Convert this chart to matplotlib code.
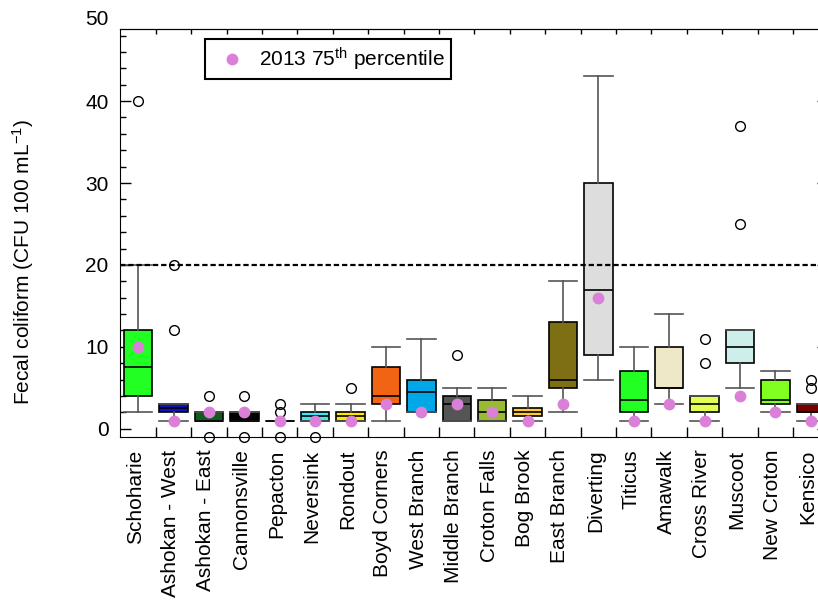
#GRAFICO BOXPLOT - COLIFORMES FECAIS POR RESERVATORIO
import matplotlib.pyplot as plt
import numpy as np
from matplotlib.ticker import MultipleLocator, FixedLocator, NullFormatter
from matplotlib.transforms import ScaledTranslation

plt.rcParams['font.family'] = ['Liberation Sans', 'DejaVu Sans']
plt.rcParams['mathtext.fontset'] = 'custom'
plt.rcParams['mathtext.rm'] = 'Liberation Sans'
plt.rcParams['mathtext.it'] = 'Liberation Sans:italic'

# dados
nomes = ['Schoharie', 'Ashokan - West', 'Ashokan - East', 'Cannonsville', 'Pepacton',
         'Neversink', 'Rondout', 'Boyd Corners', 'West Branch', 'Middle Branch',
         'Croton Falls', 'Bog Brook', 'East Branch', 'Diverting', 'Titicus',
         'Amawalk', 'Cross River', 'Muscoot', 'New Croton', 'Kensico']
whislo = [2, 1, 1, 1, 1, 1, 1, 1, 2, 1, 1, 1, 2, 6, 1, 3, 1, 5, 2, 1]
q1     = [4, 2, 1, 1, 1, 1, 1, 3, 2, 1, 1, 1.5, 5, 9, 2, 5, 2, 8, 3, 2]
med    = [7.5, 2.5, 1, 1, 1, 1.5, 1.5, 4, 4.5, 3, 2, 2, 6, 17, 3.5, 5, 3, 10, 3.5, 2]
q3     = [12, 3, 2, 2, 1, 2, 2, 7.5, 6, 4, 3.5, 2.5, 13, 30, 7, 10, 4, 12, 6, 3]
whishi = [20, 3, 2, 2, 1, 3, 3, 10, 11, 5, 5, 4, 18, 43, 10, 14, 4, 12, 7, 3]
outliers = [[40], [12, 20], [4, -1], [4, -1], [2, 3, -1], [-1], [5], [], [], [9],
            [], [], [], [], [], [], [8, 11], [25, 37], [], [5, 6]]
p75_2013 = [10, 1, 2, 2, 1, 1, 1, 3, 2, 3, 2, 1, 3, 16, 1, 3, 1, 4, 2, 1]
cores = ['#22ff22', '#1010c0', '#0b5e1c', '#000000', '#7a3f9a', '#40e6f6', '#ffe800',
         '#f06414', '#00a8e8', '#555555', '#99bb33', '#ffcc33', '#7f6f14', '#dcdddc',
         '#22ff22', '#eee8c8', '#e2ff50', '#cdeeea', '#80ff20', '#7a0000']

limite = 20

fig = plt.figure(figsize=(8.18, 6), dpi=100)
ax = fig.add_axes([0.1473, 0.2717, 0.8655, 0.68])

pos = np.arange(1, len(nomes) + 1)
stats = []
for i in range(len(nomes)):
    stats.append(dict(label=nomes[i], whislo=whislo[i], q1=q1[i], med=med[i],
                      q3=q3[i], whishi=whishi[i], fliers=outliers[i]))

bp = ax.bxp(stats, positions=pos, widths=0.8, capwidths=0.8, patch_artist=True,
            manage_ticks=False,
            boxprops=dict(edgecolor='black', linewidth=1.2),
            whiskerprops=dict(color='#555555', linewidth=1.2),
            capprops=dict(color='#555555', linewidth=1.2),
            medianprops=dict(color='black', linewidth=1.2),
            flierprops=dict(marker='o', markerfacecolor='none', markeredgecolor='black',
                            markersize=7, markeredgewidth=1))
for caixa, c in zip(bp['boxes'], cores):
    caixa.set_facecolor(c)
for fl in bp['fliers']:
    fl.set_clip_on(False)

ax.axhline(limite, color='black', linewidth=1.6, linestyle=(0, (2.4, 1.3)), zorder=4)
ax.plot(pos, p75_2013, 'o', color='#da80d8', markersize=8.5, markeredgecolor='none',
        label='2013 75$^{\\mathrm{th}}$ percentile', zorder=5, clip_on=False)

# eixo x
ax.set_xlim(0.5, len(nomes) + 0.5)
divisas = np.arange(1.5, len(nomes), 1)
ax.xaxis.set_major_locator(FixedLocator(divisas))
ax.xaxis.set_major_formatter(NullFormatter())
ax.xaxis.set_minor_locator(FixedLocator(pos))
ax.set_xticklabels(nomes, minor=True, rotation=90)
ax.tick_params(axis='x', which='major', direction='in', length=7, width=1)
ax.tick_params(axis='x', which='minor', length=0, pad=9, labelsize=15)
desloc = ScaledTranslation(-3 / 100, 0, fig.dpi_scale_trans)
for lab in ax.get_xticklabels(minor=True):
    lab.set_transform(lab.get_transform() + desloc)
topo = ax.secondary_xaxis('top')
topo.set_xticks(divisas)
topo.set_xticklabels([])
topo.tick_params(direction='in', length=3.5, width=1)

# eixo y
ax.set_ylim(-1.0, 48.8)
ax.yaxis.set_major_locator(MultipleLocator(10))
ax.yaxis.set_minor_locator(MultipleLocator(2))
ax.tick_params(axis='y', which='major', direction='in', length=8, width=1,
               right=True, pad=8.6, labelsize=15)
ax.tick_params(axis='y', which='minor', direction='in', length=4.3, width=1, right=True)
ax.annotate('50', xy=(0, 50), xycoords=('axes fraction', 'data'), xytext=(-8.6, 0),
            textcoords='offset points', ha='right', va='center', fontsize=15,
            annotation_clip=False)
ax.set_ylabel('Fecal coliform (CFU 100 mL$^{-1}$)', fontsize=15)
ax.yaxis.set_label_coords(-0.12, 0.43)

leg = ax.legend(loc='upper left', bbox_to_anchor=(0.119, 0.975), borderaxespad=0,
                fancybox=False, edgecolor='black', fontsize=15, numpoints=1,
                handletextpad=0.3, borderpad=0.3, framealpha=1)
leg.get_frame().set_linewidth(1.5)

plt.savefig('out.png', dpi=100)
